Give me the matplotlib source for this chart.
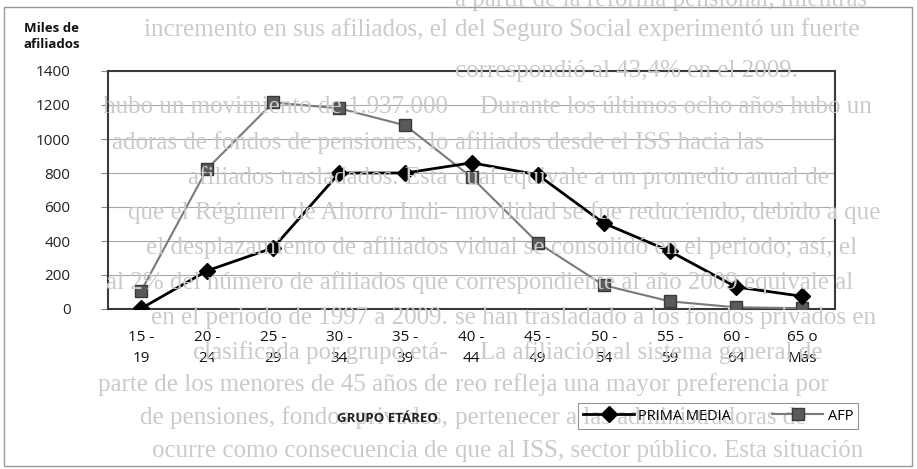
import matplotlib
matplotlib.use("Agg")
import matplotlib.pyplot as plt
from matplotlib.patches import Rectangle

# age groups and affiliates (thousands)
grupos = ["15 -\n19", "20 -\n24", "25 -\n29", "30 -\n34", "35 -\n39", "40 -\n44",
          "45 -\n49", "50 -\n54", "55 -\n59", "60 -\n64", "65 o\nMás"]
prima_media = [3, 225, 360, 800, 800, 860, 790, 505, 340, 130, 75]
afp = [105, 825, 1215, 1180, 1080, 775, 390, 140, 45, 10, 5]
y_ticks = [0, 200, 400, 600, 800, 1000, 1200, 1400]

# page text that shows through the scan (left half shows line ends, right half line starts)
page_left = [
    "",
    "incremento en sus afiliados, el",
    "",
    "hubo un movimiento de 1.937.000",
    "adoras de fondos de pensiones, lo",
    "afiliados trasladados. Esta",
    "que el Régimen de Ahorro Indi-",
    "el desplazamiento de afiliados",
    "al 2% del número de afiliados que",
    "en el periodo de 1997 a 2009.",
    "clasificada por grupo etá-",
    "parte de los menores de 45 años de",
    "de pensiones, fondos privados,",
    "ocurre como consecuencia de",
]
page_right = [
    "a partir de la reforma pensional, mientras",
    "del Seguro Social experimentó un fuerte",
    "correspondió al 43,4% en el 2009.",
    "    Durante los últimos ocho años hubo un",
    "afiliados desde el ISS hacia las",
    "cual equivale a un promedio anual de",
    "movilidad se fue reduciendo, debido a que",
    "vidual se consolidó en el periodo; así, el",
    "correspondiente al año 2009 equivale al",
    "se han trasladado a los fondos privados en",
    "    La afiliación al sistema general de",
    "reo refleja una mayor preferencia por",
    "pertenecer a las administradoras de",
    "que al ISS, sector público. Esta situación",
]
line_y = [0, 30, 71, 107, 143, 178, 213, 248, 283, 318, 353, 385, 418, 451]

W, H = 917, 469
fig = plt.figure(figsize=(W / 100, H / 100), dpi=100)
fig.patch.set_facecolor("white")

for left, right, ypix in zip(page_left, page_right, line_y):
    if left:
        fig.text(448 / W, 1 - ypix / H, left, fontsize=18, family="Liberation Serif",
                 color="#cacaca", ha="right", va="center", zorder=0)
    fig.text(455 / W, 1 - ypix / H, right, fontsize=18, family="Liberation Serif",
             color="#cacaca", ha="left", va="center", zorder=0)

plt.rcParams["font.family"] = ["Open Sans", "DejaVu Sans"]

# outer frame of the figure box
fig.add_artist(Rectangle((4 / W, 3 / H), 908 / W, 459 / H, transform=fig.transFigure,
                         fill=False, edgecolor="#9a9a9a", linewidth=1.0))

ax = fig.add_axes([108 / W, 1 - 309 / H, 727 / W, 238 / H])
ax.patch.set_alpha(0)
x = list(range(len(grupos)))

ax.plot(x, prima_media, color="black", linewidth=2, marker="D", markersize=8,
        markerfacecolor="black", markeredgecolor="black", label="PRIMA MEDIA", zorder=4)
ax.plot(x, afp, color="#7a7a7a", linewidth=1.5, marker="s", markersize=8.5,
        markerfacecolor="#5a5a5a", markeredgecolor="#3a3a3a", label="AFP", zorder=3)

ax.set_xlim(-0.5, len(grupos) - 0.5)
ax.set_ylim(0, 1400)
ax.set_yticks(y_ticks)
ax.set_yticklabels([str(v) for v in y_ticks], fontsize=11, color="#222222")
ax.set_xticks(x)
ax.set_xticklabels(grupos, fontsize=11, color="#111111", linespacing=1.55)
ax.tick_params(axis="x", length=0, pad=15)
ax.tick_params(axis="y", length=5, width=0.8, color="#888888", pad=22)
ax.yaxis.grid(True, color="#a8a8a8", linewidth=0.8)
ax.set_axisbelow(True)
for s in ax.spines.values():
    s.set_color("#3a3a3a")
    s.set_linewidth(1.5)

fig.text(24 / W, 1 - 36 / H, "Miles de\nafiliados", fontsize=9.5, fontweight="bold",
         ha="left", va="center", linespacing=1.3, color="#111111")
fig.text(387 / W, 1 - 418 / H, "GRUPO ETÁREO", fontsize=9.5, fontweight="bold",
         ha="center", va="center", color="#222222")

leg = fig.legend(loc="center", bbox_to_anchor=(718 / W, 1 - 416 / H), ncol=2,
                 fontsize=10.5, frameon=True, fancybox=False, handlelength=3.5,
                 columnspacing=2.8, handletextpad=0.3, borderpad=0.35)
leg.get_frame().set_facecolor("none")
leg.get_frame().set_edgecolor("#777777")
leg.get_frame().set_linewidth(0.8)

fig.savefig("out.png", dpi=100)
